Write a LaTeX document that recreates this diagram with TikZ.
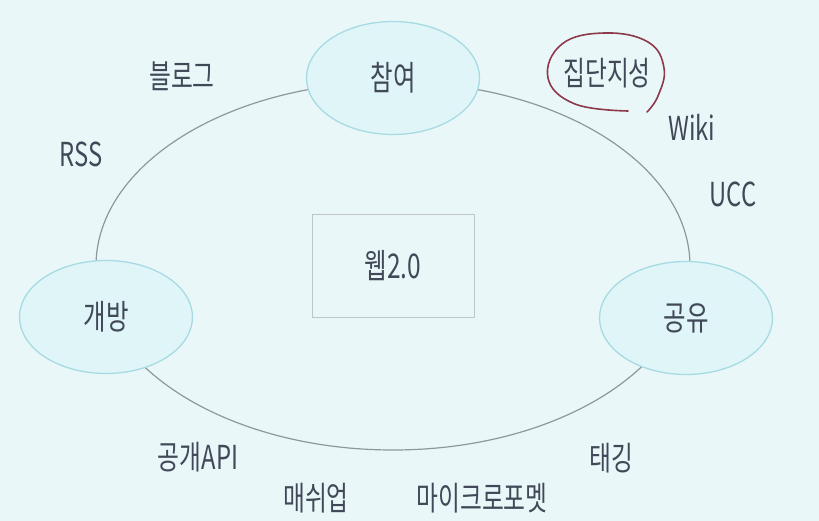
\documentclass[tikz,border=0pt]{standalone}
\usepackage{fontspec}
\usetikzlibrary{shapes.geometric,positioning}
\newfontfamily\krfont[FakeStretch=0.72]{Noto Sans CJK KR}
\definecolor{slidebg}{HTML}{EAF7F9}
\definecolor{bubblefill}{HTML}{E0F5F7}
\definecolor{bubbleline}{HTML}{A6DBE3}
\definecolor{ringgray}{HTML}{8D989B}
\definecolor{inkgray}{HTML}{414858}
\definecolor{penred}{HTML}{8C3A4B}

\begin{document}
\begin{tikzpicture}[x=1pt,y=-1pt,
      bubble/.style={ellipse,draw=bubbleline,fill=bubblefill,line width=1.3pt,minimum width=173pt,
        minimum height=113pt,inner sep=0pt,font=\krfont\fontsize{34}{36}\selectfont,text=inkgray},
      hub/.style={rectangle,draw=ringgray!55,fill=slidebg,line width=0.8pt,minimum width=162pt,
        minimum height=103pt,font=\krfont\fontsize{34}{36}\selectfont,text=inkgray},
      tag/.style={inner sep=0pt,font=\krfont\fontsize{33}{35}\selectfont,text=inkgray},
      ring/.style={draw=ringgray,line width=1.2pt},
      pen/.style={draw=penred,line width=1.6pt,line cap=round}]
    \fill[slidebg] (0,0) rectangle (819,521);
    \node[hub] (web) at (393,266) {웹2.0};
    \draw[ring] (web.center) ellipse [x radius=297, y radius=184];
    \node[bubble] (join) at (393,78) {참여};
    \node[bubble] (open) at (106,317) {개방};
    \node[bubble] (share) at (686,318) {공유};
    \node[tag] (blog) at (182,76) {블로그};
    \node[tag] (rss) at (81,154) {RSS};
    \node[tag] (wisdom) at (607,73) {집단지성};
    \node[tag] (wiki) at (692,127) {Wiki};
    \node[tag] (ucc) at (733,194) {UCC};
    \node[tag] (api) at (198,457) {공개API};
    \node[tag] (tagging) at (611,458) {태깅};
    \node[tag] (mashup) at (316,498) {매쉬업};
    \node[tag] (micro) at (482,498) {마이크로포멧};
    \draw[pen] plot[smooth,tension=0.7] coordinates {(628,111) (575,104) (548,78) (562,44) (605,33)
      (648,42) (664,68) (658,96) (647,112)};
  \end{tikzpicture}
\end{document}
